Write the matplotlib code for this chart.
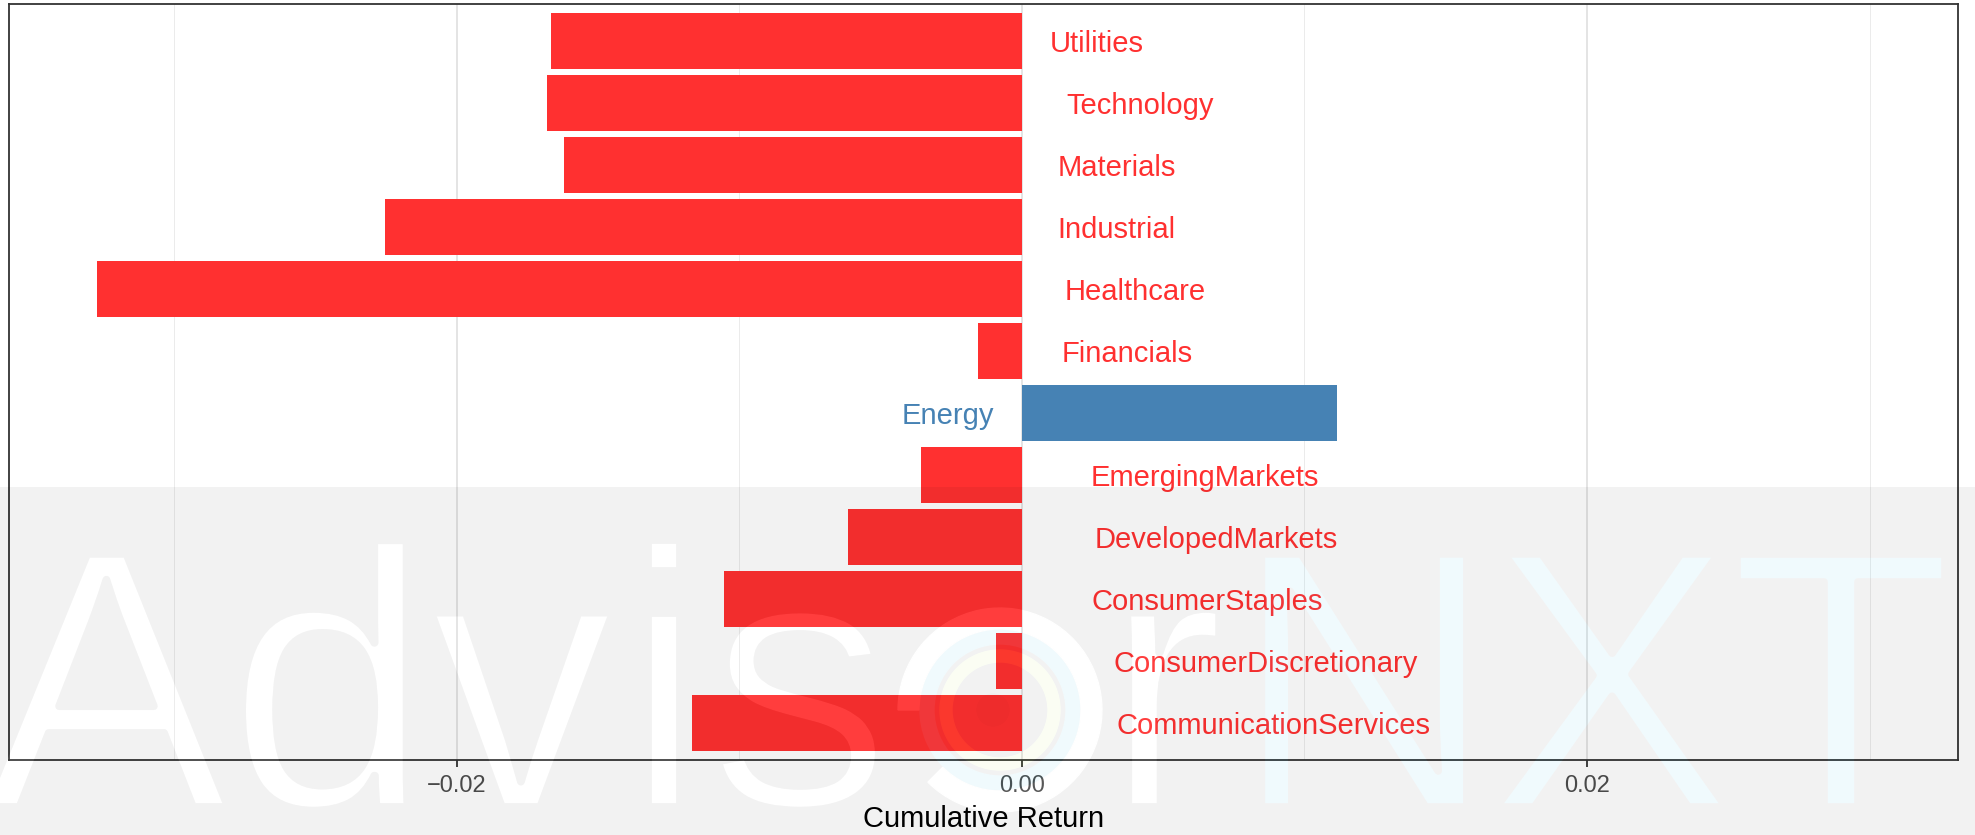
import numpy as np
import matplotlib
matplotlib.use("Agg")
import matplotlib.pyplot as plt
from matplotlib.figure import Figure
from matplotlib.backends.backend_agg import FigureCanvasAgg
from matplotlib.patches import Wedge, Circle
from matplotlib.transforms import Affine2D, IdentityTransform
import matplotlib.patheffects as pe

# ---------------- data ----------------
categories = ["CommunicationServices", "ConsumerDiscretionary", "ConsumerStaples",
              "DevelopedMarkets", "EmergingMarkets", "Energy", "Financials",
              "Healthcare", "Industrial", "Materials", "Technology", "Utilities"]
cum_return = [-0.01167, -0.00093, -0.01055, -0.00615, -0.00357, 0.01115, -0.00155,
              -0.03272, -0.02256, -0.01619, -0.01682, -0.01668]
x_ticks = [-0.02, 0.00, 0.02]
x_tick_labels = ["\u22120.02", "0.00", "0.02"]
x_minor = [-0.03, -0.01, 0.01, 0.03]
x_label = "Cumulative Return"

# ---------------- style ----------------
NEG = "#FF3030"
POS = "#4682B4"
W, H, DPI = 1975, 835, 100
plt.rcParams['font.family'] = ['Liberation Sans', 'DejaVu Sans']

fig = plt.figure(figsize=(W / DPI, H / DPI), dpi=DPI)
fig.patch.set_facecolor('white')
ax = fig.add_axes([9 / W, (H - 760) / H, (1958 - 9) / W, (760 - 4) / H])

ypos = np.arange(1, len(categories) + 1)
colors = [POS if v > 0 else NEG for v in cum_return]
ax.barh(ypos, cum_return, height=0.9, color=colors, zorder=2)
ax.set_xlim(-0.03585, 0.03313)
ax.set_ylim(0.4, len(categories) + 0.6)
ax.set_xticks(x_ticks)
ax.set_xticklabels(x_tick_labels)
ax.set_xticks(x_minor, minor=True)
ax.set_yticks([])
ax.set_axisbelow(True)
ax.grid(True, which='major', axis='x', color='#DCDCDC', lw=1.1)
ax.grid(True, which='minor', axis='x', color='#EBEBEB', lw=0.7)
ax.tick_params(axis='x', which='major', length=5, width=1.3, color='#333333',
               labelsize=17, labelcolor='#4D4D4D', pad=5.5)
ax.tick_params(axis='x', which='minor', length=0)
for sp in ax.spines.values():
    sp.set_color('#333333')
    sp.set_linewidth(1.3)
ax.set_xlabel(x_label, fontsize=21, color='black', labelpad=6)

texts = []
for y, name, v, c in zip(ypos, categories, cum_return, colors):
    t = ax.text(0, y, name, color=c, fontsize=21,
                ha='right' if v > 0 else 'left', va='center', zorder=3)
    texts.append((t, v))
fig.canvas.draw()
for t, v in texts:
    w = t.get_window_extent().width
    dx = -0.3 * w if v > 0 else 0.3 * w
    t.set_transform(ax.transData + Affine2D().translate(dx, -3))

# ---------------- watermark overlay ----------------
WM_FS = 265
BASE = H - 807
thin = [pe.Stroke(linewidth=5.5, foreground='white')]
LOGO = (1000, H - 710)


def coverage(draw):
    f = Figure(figsize=(W / DPI, H / DPI), dpi=DPI)
    cv = FigureCanvasAgg(f)
    f.patch.set_facecolor('white')
    draw(f)
    cv.draw()
    a = np.asarray(cv.buffer_rgba())[:, :, 0].astype(float)
    return 1.0 - a / 255.0


def put_letters(f, chars, centers):
    for ch, cx in zip(chars, centers):
        f.text(cx, BASE, ch, transform=IdentityTransform(), fontsize=WM_FS,
               ha='center', va='baseline', color='black', path_effects=thin,
               family='Liberation Sans')


def draw_white(f):
    put_letters(f, "Advisr", [106, 329, 522, 664, 800, 1164])
    f.add_artist(Wedge(LOGO, 102, -135, 180, width=21, color='black',
                       transform=IdentityTransform()))


def draw_cyan(f):
    put_letters(f, "NXT", [1364, 1611, 1841])
    f.add_artist(Wedge(LOGO, 80, 0, 360, width=14, color='black',
                       transform=IdentityTransform()))


def draw_yellow(f):
    f.add_artist(Wedge(LOGO, 60, 0, 360, width=12, color='black',
                       transform=IdentityTransform()))


def draw_dot(f):
    f.add_artist(Circle((LOGO[0] - 7, LOGO[1]), 16, color='black',
                        transform=IdentityTransform()))


rgb = np.zeros((H, W, 3))
alpha = np.zeros((H, W))
alpha[487:, :] = 0.052
layers = [(draw_yellow, (170, 225, 0), 0.05),
          (draw_cyan, (0, 172, 222), 0.06),
          (draw_white, (255, 255, 255), 0.07),
          (draw_dot, (0, 0, 0), 0.07)]
for fn, col, a in layers:
    cov = coverage(fn)
    c = np.array(col) / 255.0
    rgb = rgb * (1 - cov[..., None]) + c * cov[..., None]
    alpha = alpha * (1 - cov) + a * cov
img = np.dstack([rgb, alpha])
fig.figimage(img, xo=0, yo=0, origin='upper', zorder=10)

fig.savefig('out.png', dpi=DPI, facecolor='white')
